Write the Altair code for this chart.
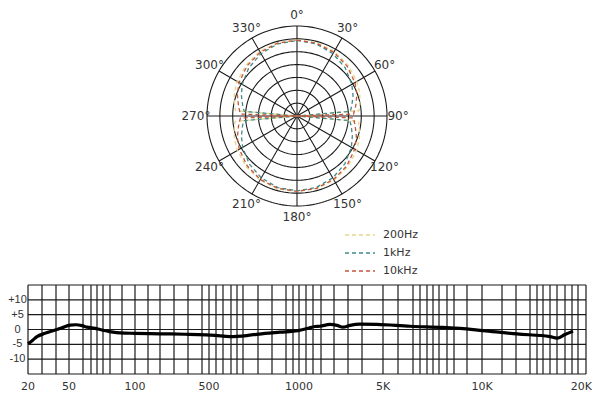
import altair as alt
import numpy as np
import pandas as pd

# ---------------- polar pattern data (radius in dB-steps, outer ring = 35) ----------------
ring_radii = [5, 10, 15, 20, 25, 30, 35]
spoke_angles = [0, 30, 60, 90, 120, 150, 180, 210, 240, 270, 300, 330]
angle_labels = ["0°", "30°", "60°", "90°", "120°", "150°", "180°",
                "210°", "240°", "270°", "300°", "330°"]

trace_angles = [0, 15, 30, 45, 60, 70, 80, 85, 88, 90, 92, 95, 100, 110, 120, 135, 150,
                165, 180, 195, 210, 225, 240, 250, 260, 265, 268, 270, 272, 275, 280,
                290, 300, 315, 330, 345, 360]
r_200hz = [29.6, 29.5, 29.0, 28.0, 26.9, 26.0, 24.8, 24.2, 0, 0, 0, 24.0, 24.6, 25.8,
           26.8, 27.9, 28.8, 29.3, 29.4, 29.3, 28.8, 27.9, 26.8, 25.9, 24.8, 24.1, 0,
           0, 0, 24.0, 24.7, 25.9, 26.9, 28.0, 29.0, 29.5, 29.6]
r_1khz = [29.4, 29.0, 28.0, 26.5, 24.6, 23.2, 21.6, 20.8, 0, 0, 0, 20.6, 21.4, 22.9,
          24.4, 26.3, 27.8, 28.8, 29.1, 28.8, 27.8, 26.3, 24.4, 23.0, 21.5, 20.8, 0,
          0, 0, 20.6, 21.4, 23.0, 24.6, 26.5, 28.0, 29.0, 29.4]
r_10khz = [29.5, 29.3, 28.6, 27.5, 26.0, 24.8, 23.2, 22.4, 22.0, 0, 22.0, 22.3, 23.0,
           24.6, 25.9, 27.4, 28.5, 29.1, 29.3, 29.1, 28.5, 27.4, 25.9, 24.7, 23.1, 22.4,
           22.0, 0, 22.0, 22.4, 23.1, 24.7, 26.0, 27.5, 28.6, 29.3, 29.5]
series_names = ["200Hz", "1kHz", "10kHz"]
series_colors = ["#e6d68a", "#3e8c8a", "#c4553e"]

# ---------------- frequency response data ----------------
# positions along the printed (non-uniform) frequency axis, 0 = 20 Hz edge, 558 = 20K edge
freq_label_text = ["20", "50", "100", "500", "1000", "5K", "10K", "20K"]
freq_label_pos = [0, 41, 107, 181, 271, 355, 454, 558]
freq_grid_pos = [0, 14, 28, 41, 55, 63, 69, 75, 82, 94, 107, 120, 132, 146, 160, 174, 181,
                 188, 195, 203, 209, 215, 230, 244, 258, 265, 271, 278, 285, 293, 306, 320,
                 334, 355, 370, 385, 392, 399, 405, 411, 419, 426, 439, 454, 474, 488, 502,
                 509, 515, 522, 529, 537, 544, 550, 558]
db_grid = [-15, -10, -5, 0, 5, 10, 15]
db_label_vals = [10, 5, 0, -5, -10]
db_label_text = ["+10", "+5", "0", "-5", "-10"]
curve_pos = [0, 5, 9, 17, 25, 34, 42, 48, 54, 59, 67, 72, 79, 85, 92, 107, 122, 142, 157,
             170, 187, 202, 220, 237, 252, 270, 280, 287, 292, 302, 309, 315, 322, 332,
             349, 382, 415, 432, 455, 489, 522, 529, 537, 545]
curve_db = [-4.8, -3.5, -2.4, -1.3, -0.4, 0.6, 1.5, 1.6, 1.3, 0.8, 0.4, 0.0, -0.5, -0.9,
            -1.15, -1.3, -1.4, -1.5, -1.6, -1.7, -2.0, -2.4, -2.0, -1.3, -0.9, -0.4, 0.4,
            1.0, 1.1, 1.7, 1.4, 0.8, 1.4, 1.8, 1.7, 1.1, 0.7, 0.4, -0.35, -1.5, -2.4, -2.9,
            -1.7, -0.6]

FONT = "DejaVu Sans"
TXT = "#333333"
GRID = "#1a1a1a"

# ---------------- tables ----------------
ring_rows = []
for r in ring_radii:
    for i, a in enumerate(np.arange(0, 361, 2)):
        t = np.deg2rad(a)
        ring_rows.append({"ring": r, "i": i, "x": r * np.sin(t), "y": r * np.cos(t)})
rings_df = pd.DataFrame(ring_rows)

R_OUT = max(ring_radii)
spokes_df = pd.DataFrame({
    "a": spoke_angles,
    "x": 0.0, "y": 0.0,
    "x2": [R_OUT * np.sin(np.deg2rad(a)) for a in spoke_angles],
    "y2": [R_OUT * np.cos(np.deg2rad(a)) for a in spoke_angles],
})
R_LAB = 39.3
labels_df = pd.DataFrame({
    "label": angle_labels,
    "x": [R_LAB * np.sin(np.deg2rad(a)) for a in spoke_angles],
    "y": [R_LAB * np.cos(np.deg2rad(a)) for a in spoke_angles],
})

trace_rows = []
for name, rs in zip(series_names, [r_200hz, r_1khz, r_10khz]):
    for i, (a, r) in enumerate(zip(trace_angles, rs)):
        t = np.deg2rad(a)
        trace_rows.append({"series": name, "i": i, "x": r * np.sin(t), "y": r * np.cos(t)})
traces_df = pd.DataFrame(trace_rows)

# ---------------- polar group ----------------
px = alt.Scale(domain=[-35, 35], range=[199, 379], nice=False, zero=False)
py = alt.Scale(domain=[-35, 35], range=[198, 18], nice=False, zero=False)
cscale = alt.Scale(domain=series_names, range=series_colors)

rings = alt.Chart(rings_df).mark_line(color=GRID, strokeWidth=1.1).encode(
    x=alt.X("x:Q", scale=px, axis=None),
    y=alt.Y("y:Q", scale=py, axis=None),
    detail="ring:N", order="i:Q")
spokes = alt.Chart(spokes_df).mark_rule(color=GRID, strokeWidth=1.1).encode(
    x=alt.X("x:Q", scale=px, axis=None), y=alt.Y("y:Q", scale=py, axis=None),
    x2="x2:Q", y2="y2:Q")
traces = alt.Chart(traces_df).mark_line(strokeWidth=1.3, strokeDash=[4, 3]).encode(
    x=alt.X("x:Q", scale=px, axis=None), y=alt.Y("y:Q", scale=py, axis=None),
    color=alt.Color("series:N", scale=cscale, legend=None),
    detail="series:N", order="i:Q")
alabels = alt.Chart(labels_df).mark_text(font=FONT, fontSize=12, color=TXT,
                                          align="center", baseline="middle").encode(
    x=alt.X("x:Q", scale=px, axis=None), y=alt.Y("y:Q", scale=py, axis=None),
    text="label:N")
polar = alt.layer(rings, spokes, traces, alabels)

# ---------------- legend group ----------------
leg_df = pd.DataFrame({"series": series_names})
ly = alt.Scale(domain=series_names, range=[218, 272])
leg_lines = alt.Chart(leg_df).mark_rule(strokeWidth=1.3, strokeDash=[4, 3]).encode(
    y=alt.Y("series:N", scale=ly, axis=None),
    x=alt.value(337), x2=alt.value(367),
    color=alt.Color("series:N", scale=cscale, legend=None))
leg_text = alt.Chart(leg_df).mark_text(font=FONT, fontSize=11, color=TXT, align="left",
                                       baseline="middle").encode(
    y=alt.Y("series:N", scale=ly, axis=None), x=alt.value(375), text="series:N")
legend = alt.layer(leg_lines, leg_text)

# ---------------- frequency response group ----------------
fx = alt.Scale(domain=[0, 558], range=[20, 578], nice=False, zero=False)
fy = alt.Scale(domain=[-15, 15], range=[366, 277], nice=False, zero=False)

vgrid = alt.Chart(pd.DataFrame({"pos": freq_grid_pos})).mark_rule(
    color=GRID, strokeWidth=1.2).encode(
    x=alt.X("pos:Q", scale=fx, axis=None),
    y=alt.YDatum(-15, scale=fy, axis=None), y2=alt.Y2Datum(15))
hgrid = alt.Chart(pd.DataFrame({"db": db_grid})).mark_rule(
    color=GRID, strokeWidth=1.2).encode(
    y=alt.Y("db:Q", scale=fy, axis=None),
    x=alt.XDatum(0, scale=fx, axis=None), x2=alt.X2Datum(558))
curve = alt.Chart(pd.DataFrame({"pos": curve_pos, "db": curve_db})).mark_line(
    color="black", strokeWidth=3.2, interpolate="monotone").encode(
    x=alt.X("pos:Q", scale=fx, axis=None), y=alt.Y("db:Q", scale=fy, axis=None))
xlab_df = pd.DataFrame({"pos": freq_label_pos, "t": freq_label_text})
xlab = alt.Chart(xlab_df).transform_filter(alt.datum.t != "20K").mark_text(
    font=FONT, fontSize=11, color=TXT, align="center", baseline="middle", dy=13).encode(
    x=alt.X("pos:Q", scale=fx, axis=None),
    y=alt.YDatum(-15, scale=fy, axis=None), text="t:N")
xlab_last = alt.Chart(xlab_df).transform_filter(alt.datum.t == "20K").mark_text(
    font=FONT, fontSize=11, color=TXT, align="right", baseline="middle", dy=13,
    dx=6).encode(
    x=alt.X("pos:Q", scale=fx, axis=None),
    y=alt.YDatum(-15, scale=fy, axis=None), text="t:N")
ylab = alt.Chart(pd.DataFrame({"db": db_label_vals, "t": db_label_text})).mark_text(
    font="Liberation Sans", fontSize=11, color=TXT, align="center", baseline="middle",
    dx=-10.5).encode(
    y=alt.Y("db:Q", scale=fy, axis=None),
    x=alt.XDatum(0, scale=fx, axis=None), text="t:N")
freq = alt.layer(vgrid, hgrid, curve, xlab, xlab_last, ylab)

chart = alt.layer(polar, legend, freq).resolve_scale(
    x="independent", y="independent", color="independent"
).properties(
    width=584, height=387, autosize="none", padding=0, background="white"
).configure_view(stroke=None)

chart.save("out.html", embed_options={"renderer": "svg", "actions": False})
